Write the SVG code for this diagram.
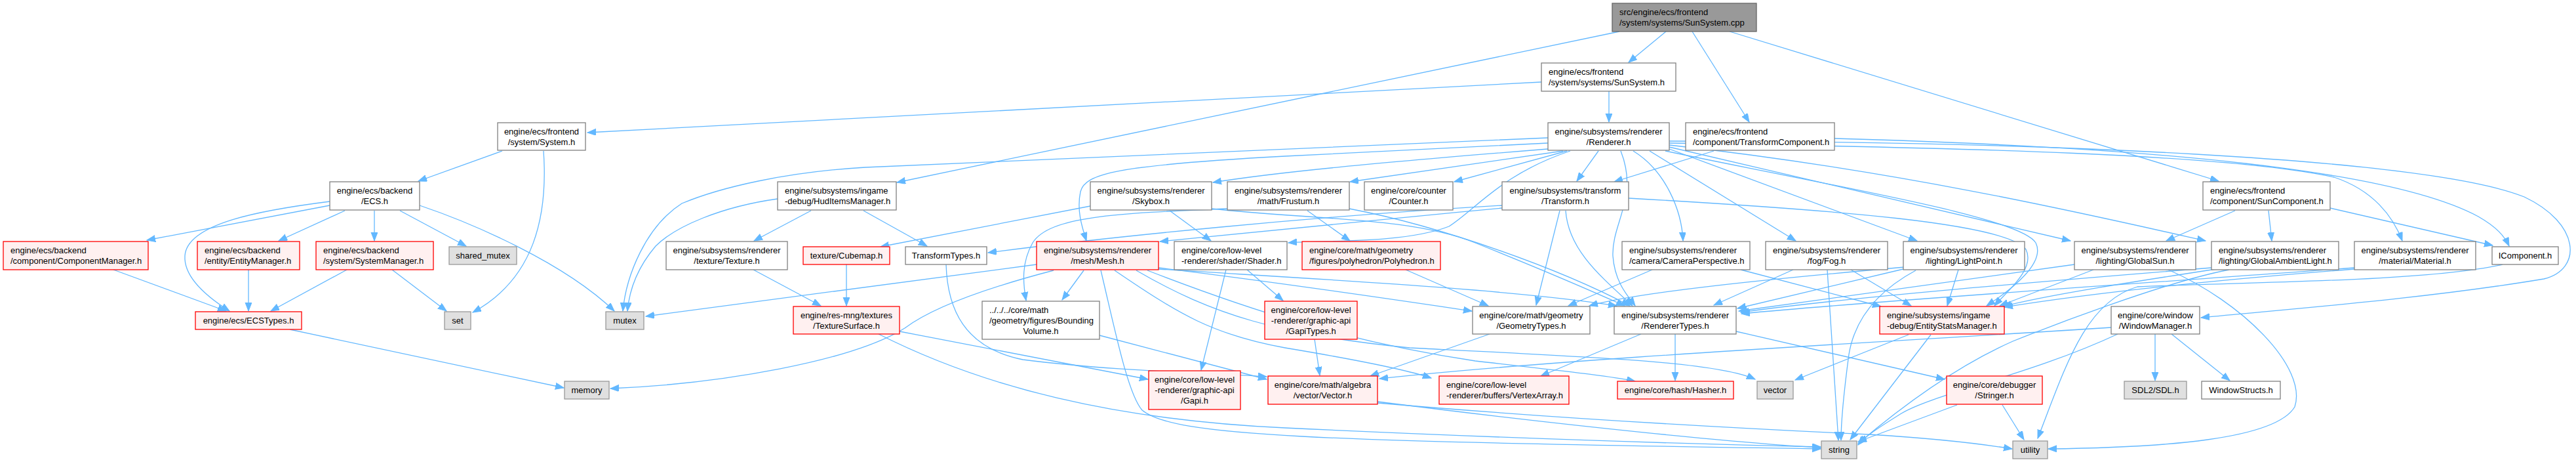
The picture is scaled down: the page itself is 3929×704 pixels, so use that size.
<svg xmlns="http://www.w3.org/2000/svg" width="3929" height="704" viewBox="0 0 3929 704">
<style>
rect{stroke-width:1.3}
.w rect{fill:#ffffff;stroke:#808080}
.g rect{fill:#e0e0e0;stroke:#999999}
.r rect{fill:#fff0f0;stroke:#ff0000}
.root rect{fill:#999999;stroke:#666666}
text{font-family:"Liberation Sans",Arial,sans-serif;font-size:13px;fill:#000}
.c text,text.c{text-anchor:middle}
#edges path{fill:none;stroke:#63b8ff;stroke-width:1.3;marker-end:url(#a)}
</style>
<defs>
<marker id="a" markerWidth="14" markerHeight="11" refX="13" refY="5" orient="auto" markerUnits="userSpaceOnUse"><path d="M0,0L13,5L0,10z" fill="#63b8ff" stroke="#63b8ff" stroke-width="1"/></marker>
</defs>
<rect width="3929" height="704" fill="#ffffff"/>
<g id="edges">
<path d="M2541,48 L2484,95"/>
<path d="M2470,48 L1368,278"/>
<path d="M2581,48 L2668,186"/>
<path d="M2638,48 L3384,276"/>
<path d="M2351,125 L896,202"/>
<path d="M2454,139 L2454,186"/>
<path d="M766,230 L638,276"/>
<path d="M829,230 C836,330 815,425 721,476"/>
<path d="M503,313 L224,366"/>
<path d="M526,321 L425,367"/>
<path d="M571,321 L571,367"/>
<path d="M503,307 C400,320 285,340 282,390 C280,425 320,455 350,474"/>
<path d="M610,321 L711,375"/>
<path d="M640,313 C720,340 860,400 937,474"/>
<path d="M173,411 L345,474"/>
<path d="M379,411 L379,474"/>
<path d="M529,411 L413,474"/>
<path d="M598,411 L681,474"/>
<path d="M442,502 L860,591"/>
<path d="M1186,303 C1100,315 1030,345 1000,375 C972,408 960,440 957,474"/>
<path d="M1237,321 L1150,367"/>
<path d="M1317,321 L1414,375"/>
<path d="M1149,411 L1252,466"/>
<path d="M1291,403 L1291,466"/>
<path d="M1372,505 L1751,578"/>
<path d="M1340,509 C1500,590 1700,640 1960,652 C2300,668 2600,677 2777,681"/>
<path d="M2361,210 L1320,255 C1200,262 1100,285 1040,310 C985,345 955,420 950,474"/>
<path d="M2361,218 L1960,238 C1700,252 1655,265 1648,292 C1642,320 1650,345 1657,367"/>
<path d="M2361,227 C2100,248 1950,262 1850,278"/>
<path d="M2384,230 L2059,277"/>
<path d="M2390,230 L2218,277"/>
<path d="M2438,230 L2405,276"/>
<path d="M2395,230 C2290,265 2250,320 2210,345 C2140,372 2010,366 1965,370"/>
<path d="M2491,230 C2540,260 2565,320 2567,367"/>
<path d="M2516,230 L2739,367"/>
<path d="M2546,227 L2924,367"/>
<path d="M2546,224 L3158,367"/>
<path d="M2546,221 C2900,260 3200,330 3364,367"/>
<path d="M2546,218 C3000,225 3400,235 3560,270 C3620,290 3650,330 3664,367"/>
<path d="M2546,215 C3100,215 3700,240 3850,300 C3935,340 3940,410 3880,425 C3700,455 3500,470 3357,484"/>
<path d="M2472,230 C2500,300 2458,340 2460,390 C2463,430 2482,450 2494,466"/>
<path d="M2540,230 C2800,285 3080,330 3105,370 C3120,400 3070,440 3030,466"/>
<path d="M2614,230 L2462,277"/>
<path d="M2798,211 C3300,225 3650,260 3780,330 C3808,346 3820,360 3827,375"/>
<path d="M3409,321 L3304,367"/>
<path d="M3460,321 L3465,367"/>
<path d="M3554,317 L3802,374"/>
<path d="M1784,321 L1847,367"/>
<path d="M1663,314 L1343,376"/>
<path d="M1848,318 C2000,335 2150,330 2250,370 C2350,410 2420,440 2478,466"/>
<path d="M1872,318 C1700,325 1600,330 1575,370 C1558,400 1560,430 1565,458"/>
<path d="M1994,321 L2059,367"/>
<path d="M2058,318 C2200,345 2380,410 2486,466"/>
<path d="M2291,313 C2000,330 1700,360 1507,385"/>
<path d="M2291,317 C2100,335 1900,355 1769,368"/>
<path d="M2379,321 L2343,465"/>
<path d="M2388,321 C2392,380 2440,420 2490,466"/>
<path d="M2484,302 C2800,320 3060,340 3090,380 C3105,410 3060,445 3042,466"/>
<path d="M1581,403 L985,482"/>
<path d="M1607,412 C1500,440 1420,470 1380,500 C1300,550 1100,585 931,592"/>
<path d="M1653,412 L1620,457"/>
<path d="M1679,412 C1700,500 1720,600 1742,625 C1790,665 2000,672 2777,684"/>
<path d="M1700,412 C1800,480 1850,510 1960,530 C2080,550 2150,565 2183,576"/>
<path d="M1733,412 C1850,480 1950,510 2150,530 C2450,545 2620,552 2677,578"/>
<path d="M1767,408 C1950,430 2150,460 2245,474"/>
<path d="M1767,410 C2000,425 2300,440 2466,466"/>
<path d="M1750,412 C1900,470 2050,520 2250,550 C2380,565 2450,572 2494,581"/>
<path d="M1870,411 L1832,564"/>
<path d="M1902,411 L1957,458"/>
<path d="M2144,411 L2270,466"/>
<path d="M2520,411 L2392,466"/>
<path d="M2655,411 L2869,467"/>
<path d="M2735,411 L2614,465"/>
<path d="M2787,411 L2804,671"/>
<path d="M2823,411 L2915,466"/>
<path d="M2903,410 L2650,470"/>
<path d="M2905,407 C2700,425 2500,445 2424,466"/>
<path d="M2987,411 L2970,466"/>
<path d="M2922,412 C2870,440 2830,480 2820,540 C2812,600 2808,640 2808,671"/>
<path d="M3164,403 L2652,474"/>
<path d="M3193,411 L3050,466"/>
<path d="M3307,411 C3420,460 3520,560 3500,620 C3470,670 3300,682 3124,684"/>
<path d="M3373,408 C3100,430 2800,455 2655,476"/>
<path d="M3380,410 C3250,430 3120,450 3055,467"/>
<path d="M3400,411 C3300,430 3120,500 3070,520 C2980,560 2900,620 2834,676"/>
<path d="M3591,408 C3300,430 2900,455 2656,478"/>
<path d="M3591,410 C3400,425 3200,445 3057,468"/>
<path d="M3817,403 C3700,430 3400,430 3260,437 C3180,460 3150,560 3108,668"/>
<path d="M2985,617 L2834,673"/>
<path d="M3054,617 L3087,670"/>
<path d="M2911,510 L2738,579"/>
<path d="M2945,510 L2822,670"/>
<path d="M2503,509 L2350,573"/>
<path d="M2555,509 L2555,580"/>
<path d="M2648,505 L2966,578"/>
<path d="M2272,509 L2090,573"/>
<path d="M2005,517 L2013,572"/>
<path d="M1677,511 L1932,578"/>
<path d="M1443,403 C1445,470 1470,530 1560,548 C1700,566 1850,568 1932,574"/>
<path d="M2101,612 C2400,650 2650,675 2777,682"/>
<path d="M2101,614 C2400,640 2700,655 2850,662 C2950,668 3020,676 3069,684"/>
<path d="M3220,499 C2900,520 2400,545 2104,577"/>
<path d="M3287,509 L3287,580"/>
<path d="M3312,509 L3401,580"/>
<path d="M3230,509 C3100,570 2950,600 2900,630 C2860,655 2845,665 2834,678"/>
</g>
<g id="n_cpp" class="root"><rect x="2459" y="5" width="220" height="43"/><text x="2470" y="23">src/engine/ecs/frontend</text><text x="2470" y="39">/system/systems/SunSystem.cpp</text></g>
<g id="n_sunsystem_h" class="w"><rect x="2351" y="96" width="205" height="43"/><text x="2362" y="114">engine/ecs/frontend</text><text x="2362" y="130">/system/systems/SunSystem.h</text></g>
<g id="n_system_h" class="w c"><rect x="759" y="187" width="134" height="42"/><text x="826" y="205">engine/ecs/frontend</text><text x="826" y="221">/system/System.h</text></g>
<g id="n_renderer" class="w c"><rect x="2361" y="187" width="185" height="42"/><text x="2453.5" y="205">engine/subsystems/renderer</text><text x="2453.5" y="221">/Renderer.h</text></g>
<g id="n_transformcomponent" class="w"><rect x="2571" y="187" width="227" height="42"/><text x="2582" y="205">engine/ecs/frontend</text><text x="2582" y="221">/component/TransformComponent.h</text></g>
<g id="n_ecs" class="w c"><rect x="503" y="277" width="137" height="43"/><text x="571.5" y="295">engine/ecs/backend</text><text x="571.5" y="311">/ECS.h</text></g>
<g id="n_huditems" class="w"><rect x="1186" y="277" width="181" height="43"/><text x="1197" y="295">engine/subsystems/ingame</text><text x="1197" y="311">-debug/HudItemsManager.h</text></g>
<g id="n_skybox" class="w c"><rect x="1663" y="277" width="185" height="43"/><text x="1755.5" y="295">engine/subsystems/renderer</text><text x="1755.5" y="311">/Skybox.h</text></g>
<g id="n_frustum" class="w c"><rect x="1872" y="277" width="186" height="43"/><text x="1965" y="295">engine/subsystems/renderer</text><text x="1965" y="311">/math/Frustum.h</text></g>
<g id="n_counter" class="w c"><rect x="2081" y="277" width="135" height="43"/><text x="2148.5" y="295">engine/core/counter</text><text x="2148.5" y="311">/Counter.h</text></g>
<g id="n_transform" class="w c"><rect x="2291" y="277" width="193" height="43"/><text x="2387.5" y="295">engine/subsystems/transform</text><text x="2387.5" y="311">/Transform.h</text></g>
<g id="n_suncomponent" class="w"><rect x="3360" y="277" width="194" height="43"/><text x="3371" y="295">engine/ecs/frontend</text><text x="3371" y="311">/component/SunComponent.h</text></g>
<g id="n_componentmanager" class="r"><rect x="5" y="368" width="221" height="43"/><text x="16" y="386">engine/ecs/backend</text><text x="16" y="402">/component/ComponentManager.h</text></g>
<g id="n_entitymanager" class="r"><rect x="301" y="368" width="156" height="43"/><text x="312" y="386">engine/ecs/backend</text><text x="312" y="402">/entity/EntityManager.h</text></g>
<g id="n_systemmanager" class="r"><rect x="482" y="368" width="179" height="43"/><text x="493" y="386">engine/ecs/backend</text><text x="493" y="402">/system/SystemManager.h</text></g>
<g id="n_shared_mutex" class="g c"><rect x="685" y="376" width="103" height="27"/><text x="736.5" y="394">shared_mutex</text></g>
<g id="n_texture" class="w c"><rect x="1016" y="368" width="185" height="43"/><text x="1108.5" y="386">engine/subsystems/renderer</text><text x="1108.5" y="402">/texture/Texture.h</text></g>
<g id="n_cubemap" class="r c"><rect x="1225" y="376" width="132" height="27"/><text x="1291" y="394">texture/Cubemap.h</text></g>
<g id="n_transformtypes" class="w c"><rect x="1381" y="376" width="124" height="27"/><text x="1443" y="394">TransformTypes.h</text></g>
<g id="n_mesh" class="r c"><rect x="1581" y="368" width="186" height="43"/><text x="1674" y="386">engine/subsystems/renderer</text><text x="1674" y="402">/mesh/Mesh.h</text></g>
<g id="n_shader" class="w"><rect x="1791" y="368" width="172" height="43"/><text x="1802" y="386">engine/core/low-level</text><text x="1802" y="402">-renderer/shader/Shader.h</text></g>
<g id="n_polyhedron" class="r"><rect x="1986" y="368" width="211" height="43"/><text x="1997" y="386">engine/core/math/geometry</text><text x="1997" y="402">/figures/polyhedron/Polyhedron.h</text></g>
<g id="n_camera" class="w"><rect x="2474" y="368" width="195" height="43"/><text x="2485" y="386">engine/subsystems/renderer</text><text x="2485" y="402">/camera/CameraPerspective.h</text></g>
<g id="n_fog" class="w c"><rect x="2693" y="368" width="186" height="43"/><text x="2786" y="386">engine/subsystems/renderer</text><text x="2786" y="402">/fog/Fog.h</text></g>
<g id="n_lightpoint" class="w c"><rect x="2903" y="368" width="185" height="43"/><text x="2995.5" y="386">engine/subsystems/renderer</text><text x="2995.5" y="402">/lighting/LightPoint.h</text></g>
<g id="n_globalsun" class="w c"><rect x="3164" y="368" width="185" height="43"/><text x="3256.5" y="386">engine/subsystems/renderer</text><text x="3256.5" y="402">/lighting/GlobalSun.h</text></g>
<g id="n_ambient" class="w"><rect x="3373" y="368" width="194" height="43"/><text x="3384" y="386">engine/subsystems/renderer</text><text x="3384" y="402">/lighting/GlobalAmbientLight.h</text></g>
<g id="n_material" class="w c"><rect x="3591" y="368" width="185" height="43"/><text x="3683.5" y="386">engine/subsystems/renderer</text><text x="3683.5" y="402">/material/Material.h</text></g>
<g id="n_icomponent" class="w c"><rect x="3801" y="376" width="101" height="27"/><text x="3851.5" y="394">IComponent.h</text></g>
<g id="n_ecstypes" class="r c"><rect x="298" y="475" width="162" height="27"/><text x="379" y="493">engine/ecs/ECSTypes.h</text></g>
<g id="n_set" class="g c"><rect x="678" y="475" width="40" height="27"/><text x="698" y="493">set</text></g>
<g id="n_mutex" class="g c"><rect x="924" y="475" width="58" height="27"/><text x="953" y="493">mutex</text></g>
<g id="n_texturesurface" class="r c"><rect x="1210" y="467" width="162" height="42"/><text x="1291" y="485">engine/res-mng/textures</text><text x="1291" y="501">/TextureSurface.h</text></g>
<g id="n_bounding" class="w"><rect x="1498" y="459" width="179" height="58"/><text x="1509" y="477">../../../core/math</text><text x="1509" y="493">/geometry/figures/Bounding</text><text class="c" x="1587.5" y="509">Volume.h</text></g>
<g id="n_gapitypes" class="r c"><rect x="1929" y="459" width="141" height="58"/><text x="1999.5" y="477">engine/core/low-level</text><text x="1999.5" y="493">-renderer/graphic-api</text><text x="1999.5" y="509">/GapiTypes.h</text></g>
<g id="n_geometrytypes" class="w c"><rect x="2246" y="467" width="179" height="42"/><text x="2335.5" y="485">engine/core/math/geometry</text><text x="2335.5" y="501">/GeometryTypes.h</text></g>
<g id="n_renderertypes" class="w c"><rect x="2462" y="467" width="186" height="42"/><text x="2555" y="485">engine/subsystems/renderer</text><text x="2555" y="501">/RendererTypes.h</text></g>
<g id="n_entitystats" class="r"><rect x="2867" y="467" width="190" height="42"/><text x="2878" y="485">engine/subsystems/ingame</text><text x="2878" y="501">-debug/EntityStatsManager.h</text></g>
<g id="n_window" class="w c"><rect x="3220" y="467" width="135" height="42"/><text x="3287.5" y="485">engine/core/window</text><text x="3287.5" y="501">/WindowManager.h</text></g>
<g id="n_memory" class="g c"><rect x="861" y="581" width="68" height="27"/><text x="895" y="599">memory</text></g>
<g id="n_gapi" class="r c"><rect x="1752" y="565" width="140" height="59"/><text x="1822" y="583">engine/core/low-level</text><text x="1822" y="599">-renderer/graphic-api</text><text x="1822" y="615">/Gapi.h</text></g>
<g id="n_vector_h" class="r c"><rect x="1934" y="573" width="167" height="43"/><text x="2017.5" y="591">engine/core/math/algebra</text><text x="2017.5" y="607">/vector/Vector.h</text></g>
<g id="n_vertexarray" class="r"><rect x="2195" y="573" width="198" height="43"/><text x="2206" y="591">engine/core/low-level</text><text x="2206" y="607">-renderer/buffers/VertexArray.h</text></g>
<g id="n_hasher" class="r c"><rect x="2467" y="581" width="177" height="27"/><text x="2555.5" y="599">engine/core/hash/Hasher.h</text></g>
<g id="n_vector" class="g c"><rect x="2680" y="581" width="55" height="27"/><text x="2707.5" y="599">vector</text></g>
<g id="n_stringer" class="r c"><rect x="2969" y="573" width="146" height="43"/><text x="3042" y="591">engine/core/debugger</text><text x="3042" y="607">/Stringer.h</text></g>
<g id="n_sdl" class="g c"><rect x="3240" y="581" width="95" height="27"/><text x="3287.5" y="599">SDL2/SDL.h</text></g>
<g id="n_windowstructs" class="w c"><rect x="3358" y="581" width="120" height="27"/><text x="3418" y="599">WindowStructs.h</text></g>
<g id="n_string" class="g c"><rect x="2778" y="672" width="54" height="27"/><text x="2805" y="690">string</text></g>
<g id="n_utility" class="g c"><rect x="3070" y="672" width="53" height="27"/><text x="3096.5" y="690">utility</text></g>
</svg>
